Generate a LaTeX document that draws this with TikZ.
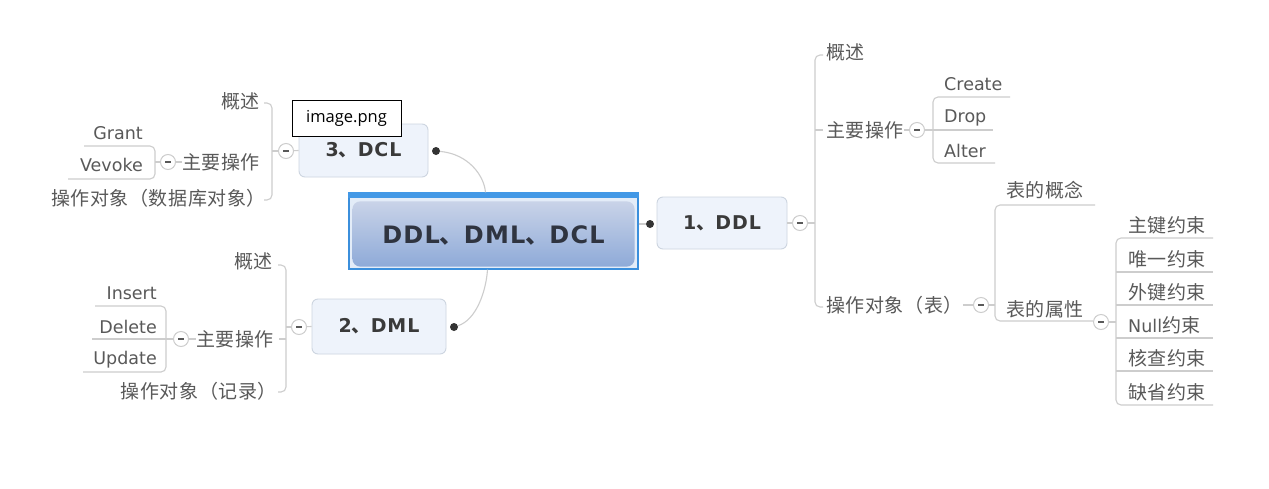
\documentclass[tikz,border=0pt]{standalone}
\usepackage{fontspec}
\setmainfont{DejaVu Sans}
\newfontfamily\cjk[LetterSpace=3]{Noto Sans CJK SC}
\newfontfamily\cjkb{Noto Sans CJK SC}
\newfontfamily\lblfont[LetterSpace=5]{DejaVu Sans}
\newfontfamily\imgfont{Open Sans}
\definecolor{linec}{HTML}{CDCDCD}
\definecolor{txtc}{HTML}{595959}
\definecolor{lblc}{HTML}{3A3A3A}
\definecolor{nodef}{HTML}{EEF3FB}
\definecolor{nodeb}{HTML}{CDD5E0}
\definecolor{dotc}{HTML}{333333}
\definecolor{cframe}{HTML}{3B8FDC}
\definecolor{cbar}{HTML}{4298E6}
\definecolor{cfill}{HTML}{E3ECF8}
\definecolor{ctop}{HTML}{C9D3E8}
\definecolor{cbot}{HTML}{8EAAD8}
\definecolor{ctext}{HTML}{2F3440}
\tikzset{
  conn/.style={draw=linec, line width=1.1pt},
  topic/.style={draw=nodeb, fill=nodef, rounded corners=6pt, line width=0.9pt, text=lblc,
    font=\lblfont\bfseries\fontsize{19}{19}\selectfont, inner sep=0pt},
  cn/.style={text=txtc, font=\cjk\fontsize{19}{19}\selectfont, inner sep=0pt},
  en/.style={text=txtc, font=\fontsize{17.5}{17.5}\selectfont, inner sep=0pt},
  minus/.style={circle, draw=linec, fill=white, line width=1pt, minimum size=15pt, inner sep=0pt,
    path picture={\draw[txtc, line width=1.3pt]
      ([xshift=-3pt]path picture bounding box.center) -- ([xshift=3pt]path picture bounding box.center);}},
  dot/.style={circle, fill=dotc, inner sep=0pt, minimum size=8pt},
  central/.style={draw=cframe, fill=cfill, line width=1.3pt, minimum width=289pt, minimum height=76pt, inner sep=0pt},
}
\begin{document}
\begin{tikzpicture}[x=1pt,y=-1pt]
\useasboundingbox (0,0) rectangle (1269,488);
\fill[white] (0,0) rectangle (1269,488);

% ---------- central topic ----------
\node[central] (c) at (493.5,231) {};
\fill[cbar] (c.north west) rectangle ([yshift=-6pt]c.north east);
\shade[top color=ctop, bottom color=cbot, rounded corners=8pt]
  ([shift={(4pt,-9pt)}]c.north west) rectangle ([shift={(-4pt,3pt)}]c.south east);
\node[text=ctext, font=\lblfont\bfseries\fontsize{24}{24}\selectfont, inner sep=0pt] (ct)
  at (493.5,235) {DDL{\cjkb\bfseries 、}DML{\cjkb\bfseries 、}DCL};

% ---------- 1、DDL ----------
\node[topic, minimum width=130pt, minimum height=52pt] (n1) at (722,223) {1{\cjkb\bfseries 、}DDL};
\node[dot] (d1) at (650,224) {};
\draw[conn] (d1 -| c.east) -- (d1);
\node[minus] (m1) at (800,223) {};
\draw[conn] (n1.east) -- (m1);
\draw[conn] (m1.east) -- (815,223);
\draw[conn, rounded corners=5pt] (823,55) -- (815,55) -- (815,307) -- (823,307);
\draw[conn] (815,130) -- (823,130);

\node[cn, anchor=west] (a1) at (826,52) {概述};
\node[cn, anchor=west] (a2) at (826,130) {主要操作};
\node[cn, anchor=west] (a3) at (826,305) {操作对象（表）};

\node[minus] (m11) at (917,130) {};
\draw[conn] (a2.east) -- (m11);
\draw[conn] (m11.east) -- (993,130);
\draw[conn, rounded corners=5pt] (1010,97) -- (933,97) -- (933,163) -- (995,163);
\node[en, anchor=west] (b1) at (944,84) {Create};
\node[en, anchor=west] (b2) at (944,118) {Drop};
\node[en, anchor=west] (b3) at (944,151) {Alter};

\node[minus] (m12) at (981,305) {};
\draw[conn] (a3.east) -- (m12);
\draw[conn] (m12.east) -- (995,305);
\draw[conn, rounded corners=5pt] (1095,205) -- (995,205) -- (995,321) -- (1093,321);
\node[cn, anchor=west] (e1) at (1006,190) {表的概念};
\node[cn, anchor=west] (e2) at (1006,309) {表的属性};

\node[minus] (m13) at (1101,322) {};
\draw[conn] (m13.east) -- (1116,322);
\draw[conn, rounded corners=5pt] (1213,238) -- (1116,238) -- (1116,405) -- (1213,405);
\foreach \yy in {272,305,338,371} { \draw[conn] (1116,\yy) -- (1213,\yy); }
\node[cn, anchor=west] (f1) at (1128,225) {主键约束};
\node[cn, anchor=west] (f2) at (1128,259) {唯一约束};
\node[cn, anchor=west] (f3) at (1128,292) {外键约束};
\node[anchor=west, inner sep=0pt, text=txtc] (f4) at (1128,325) {\fontsize{17.5}{17.5}\selectfont Null{\cjk\fontsize{19}{19}\selectfont 约束}};
\node[cn, anchor=west] (f5) at (1128,358) {核查约束};
\node[cn, anchor=west] (f6) at (1128,392) {缺省约束};

% ---------- 3、DCL ----------
\node[topic, minimum width=129pt, minimum height=53pt] (n3) at (363.5,150.5) {3{\cjkb\bfseries 、}DCL};
\node[dot] (d3) at (436,151) {};
\draw[conn] (d3) .. controls (468,154) and (484,175) .. ([xshift=-8pt]c.north);
\node[minus] (m3) at (286,151) {};
\draw[conn] (n3.west) -- (m3);
\draw[conn] (m3.west) -- (272,151);
\draw[conn, rounded corners=5pt] (264,103) -- (272,103) -- (272,200) -- (264,200);
\node[cn, anchor=east] (g1) at (260,101) {概述};
\node[cn, anchor=east] (g2) at (260,162) {主要操作};
\node[cn, anchor=east] (g3) at (266,198) {操作对象（数据库对象）};
\node[minus] (m31) at (168,162) {};
\draw[conn] (g2.west) -- (m31);
\draw[conn] (m31.west) -- (155,162);
\draw[conn, rounded corners=5pt] (84,146) -- (155,146) -- (155,179) -- (68,179);
\node[en, anchor=east] (h1) at (143,133) {Grant};
\node[en, anchor=east] (h2) at (143,165) {Vevoke};

% ---------- 2、DML ----------
\node[topic, minimum width=134pt, minimum height=55pt] (n2) at (379,326.5) {2{\cjkb\bfseries 、}DML};
\node[dot] (d2) at (454,327) {};
\draw[conn] (d2) .. controls (476,320) and (486,292) .. ([xshift=-6pt]c.south);
\node[minus] (m2) at (299,327) {};
\draw[conn] (n2.west) -- (m2);
\draw[conn] (m2.west) -- (286,327);
\draw[conn, rounded corners=5pt] (278,265) -- (286,265) -- (286,392) -- (278,392);
\draw[conn] (286,339) -- (279,339);
\node[cn, anchor=east] (k1) at (273,261) {概述};
\node[cn, anchor=east] (k2) at (274,339) {主要操作};
\node[cn, anchor=east] (k3) at (277,391) {操作对象（记录）};
\node[minus] (m21) at (181,339) {};
\draw[conn] (k2.west) -- (m21);
\draw[conn] (m21.west) -- (92,339);
\draw[conn, rounded corners=5pt] (95,306) -- (166,306) -- (166,372) -- (83,372);
\node[en, anchor=east] (p1) at (157,293) {Insert};
\node[en, anchor=east] (p2) at (157,327) {Delete};
\node[en, anchor=east] (p3) at (157,360) {Update};

% ---------- image.png label ----------
\node[draw=black, fill=white, line width=0.9pt, minimum width=109pt, minimum height=36pt, inner sep=0pt,
  font=\imgfont\fontsize{16.5}{16.5}\selectfont, text=black] (img) at (346.5,118) {image.png};
\end{tikzpicture}
\end{document}
